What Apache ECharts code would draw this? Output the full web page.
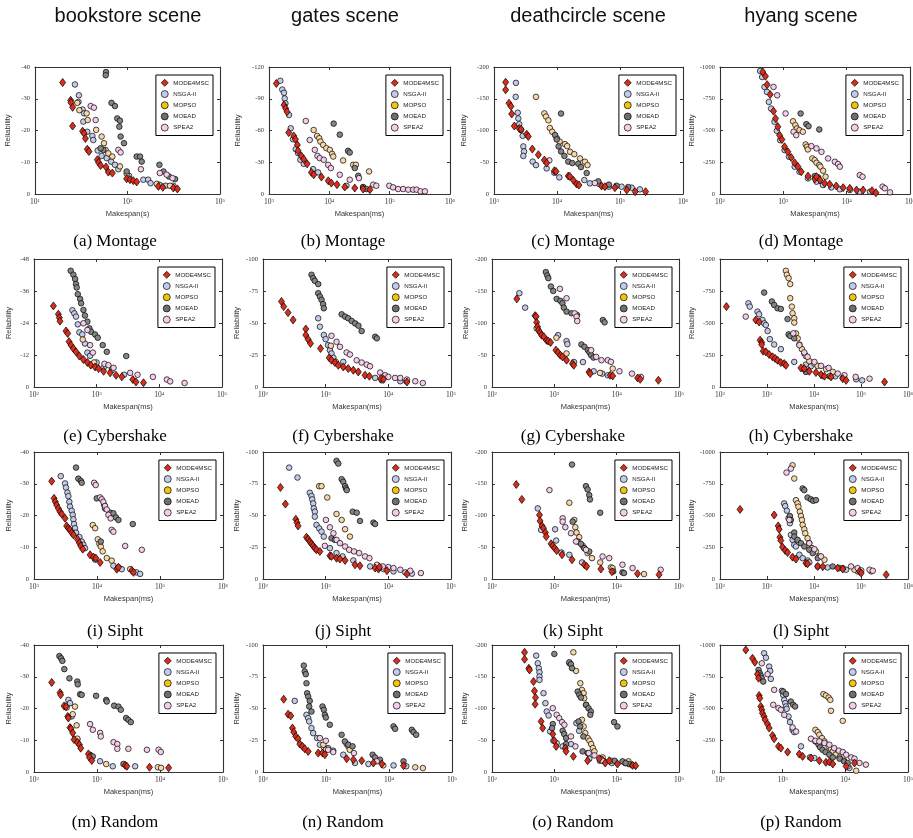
<!DOCTYPE html>
<html><head><meta charset="utf-8">
<script src="https://cdn.jsdelivr.net/npm/echarts@6/dist/echarts.min.js"></script>
<style>html,body{margin:0;padding:0;background:#fff}#c{width:913px;height:838px}</style>
</head><body><div id="c"></div>
<script>
// ---------------- DATA ----------------
const sceneTitles = ['bookstore scene', 'gates scene', 'deathcircle scene', 'hyang scene'];
const panelCaptions = ['(a) Montage','(b) Montage','(c) Montage','(d) Montage',
  '(e) Cybershake','(f) Cybershake','(g) Cybershake','(h) Cybershake',
  '(i) Sipht','(j) Sipht','(k) Sipht','(l) Sipht',
  '(m) Random','(n) Random','(o) Random','(p) Random'];
const seriesNames = ['MODE4MSC', 'NSGA-II', 'MOPSO', 'MOEAD', 'SPEA2'];
const xAxisNames = ['Makespan(s)','Makespan(ms)','Makespan(ms)','Makespan(ms)',
  'Makespan(ms)','Makespan(ms)','Makespan(ms)','Makespan(ms)',
  'Makespan(ms)','Makespan(ms)','Makespan(ms)','Makespan(ms)',
  'Makespan(ms)','Makespan(ms)','Makespan(ms)','Makespan(ms)'];
const yAxisName = 'Reliability';
// x tick labels as powers of ten (exponents)
const xTickExps = [[1,3,5],[3,4,5,6],[3,4,5,6],[2,3,4,5],
  [2,3,4,5],[2,3,4,5],[2,3,4,5],[2,3,4,5,6],
  [3,4,5,6],[2,3,4,5],[2,3,4,5],[2,3,4,5,6],
  [2,3,4,5],[2,3,4,5],[2,3,4,5],[2,3,4,5]];
// y axis: top value and tick step (bottom is 0)
const yTopValues = [-40,-120,-200,-1000,-48,-100,-200,-1000,-40,-100,-200,-1000,-40,-100,-200,-1000];
const yTickSteps = [10,30,50,250,12,25,50,250,10,25,50,250,10,25,50,250];

// (a) bookstore Montage
const a_MODE4MSC = [[39.6,-35.1],[59,-29.5],[60,-28.8],[65,-27.3],[65,-21.4],[107,-19.8],[115,-19.1],[123,-17.5],[135,-14.1],[147,-13.4],[223,-10.8],[237,-9.9],[262,-9.0],[343,-8.5],[385,-6.9],[470,-6.6],[960,-4.8],[1130,-4.5],[1330,-4.2],[1580,-3.8],[4650,-2.4],[5800,-2.1],[9800,-1.9],[12000,-1.6]];
const a_NSGA2 = [[73,-34.5],[89,-31.1],[87,-29],[107,-26.6],[115,-25.4],[111,-22.8],[135,-19.6],[174,-18.3],[182,-17.0],[227,-13.7],[276,-12.0],[355,-11.3],[441,-10.2],[535,-9.2],[634,-7.8],[1080,-5.7],[2200,-4.5],[2800,-4.5],[3150,-3.4],[4900,-2.9],[6700,-2.6],[9800,-2.6]];
const a_MOPSO = [[82,-28.7],[91,-26.4],[131,-25.4],[138,-23.3],[210,-20.2],[276,-18.1],[310,-16.0],[335,-13.9],[385,-12.8],[470,-11.8],[687,-8.7],[960,-6.4],[4300,-3.2],[8300,-2.6]];
const a_MOEAD = [[343,-38.4],[338,-37.4],[452,-28.7],[535,-27.7],[600,-23.8],[687,-23.1],[665,-21.2],[710,-18.1],[840,-16.0],[1580,-11.8],[1870,-11.8],[2030,-10.2],[300,-13.9],[262,-14.4],[960,-7.1],[4900,-9.2],[6000,-7.1],[7900,-5.5],[10700,-4.7]];
const a_SPEA2 = [[160,-27.7],[188,-27.2],[205,-23.3],[634,-13.9],[710,-13.1],[1950,-7.8],[5000,-6.6],[7000,-6.1],[9400,-5.0]];
// (b) gates Montage
const b_MODE4MSC = [[1324,-104.4],[1775,-84],[1890,-80.9],[1990,-77.7],[2120,-58],[2570,-54.9],[2740,-51.7],[2950,-46.4],[3030,-40.8],[3440,-36],[3770,-32.9],[4280,-28.5],[5050,-20.4],[5520,-18.2],[7400,-16],[9600,-12.5],[10800,-10.3],[13400,-8.8],[18000,-6.6],[26400,-5.6],[36300,-4.7],[47000,-4.1]];
const b_NSGA2 = [[1540,-107],[1660,-98.7],[1770,-95.6],[1820,-90.3],[1870,-85.6],[2150,-74.6],[2290,-62.1],[2500,-51.7],[2770,-42.3],[3030,-38.6],[3310,-32.3],[3770,-28.5],[5370,-23.5],[6500,-20.4],[19200,-7.8],[36300,-6.3]];
const b_MOPSO = [[5500,-60.5],[6270,-54.9],[6800,-52.7],[7120,-49.5],[7900,-46.4],[8930,-43.3],[10200,-41.7],[11100,-37.9],[11600,-35.4],[16900,-31.7],[24800,-27.6],[27500,-27.6],[45500,-21.3]];
const b_MOEAD = [[11800,-66.5],[14900,-56.1],[20400,-40.8],[21800,-39.2],[26400,-24.5],[30100,-17.2],[36300,-6.6],[41000,-4.7]];
const b_SPEA2 = [[4070,-69],[4730,-51],[5740,-41.7],[6370,-36],[6930,-33.9],[8080,-32.3],[9550,-27.6],[10600,-24.5],[14900,-18.2],[21800,-13.5],[31000,-15],[53300,-8.8],[60000,-7.8],[98500,-7.8],[114000,-6.3],[138000,-4.7],[167000,-4.7],[203000,-4.1],[245000,-4.1],[280000,-4.1],[325000,-2.5],[384000,-2.5]];
// (c) deathcircle Montage
const c_MODE4MSC = [[1530,-176],[1530,-164],[1730,-143],[1860,-138],[1910,-126],[2100,-107],[2520,-103],[2690,-102],[3300,-94],[3500,-90.6],[4060,-70.7],[5060,-61.8],[6300,-53.4],[6850,-48.7],[9080,-36.6],[9650,-35.6],[15100,-28.3],[16000,-27.7],[18200,-21.5],[20500,-15.7],[22300,-14.1],[51000,-12.6],[57600,-11.5],[83000,-10],[128000,-6.3],[174000,-3.7],[255000,-3.7]];
const c_NSGA2 = [[2230,-175],[2210,-153],[2380,-128],[2430,-119],[2520,-110],[2690,-101],[2850,-91.6],[2920,-74.9],[3000,-67],[2920,-60],[4110,-51],[4640,-45.5],[6850,-40.3],[9080,-33.5],[10900,-26.2],[27200,-22],[33300,-16.8],[46800,-15.7],[66800,-11.5],[106000,-11.5],[153000,-10],[207000,-7.3]];
const c_MOPSO = [[4640,-153],[6300,-127],[6700,-122],[7300,-116],[7700,-104],[8400,-98],[9900,-88],[11000,-82.7],[13400,-78.5],[14500,-75.4],[16100,-66.5],[18800,-62.8],[23200,-56],[27800,-50.8],[30500,-45.5]];
const c_MOEAD = [[11600,-126.7],[9300,-93],[9900,-86],[10600,-74.9],[11600,-67],[13100,-60],[15100,-51],[17500,-48.7],[21800,-47.6],[24000,-42.4],[29600,-33],[45300,-19.9],[66800,-14.7],[88300,-13.1],[135000,-11]];
const c_SPEA2 = [[7550,-52.9],[39900,-17.3]];
// (d) hyang Montage
const d_MODE4MSC = [[474,-961],[522,-927],[555,-861],[620,-783],[700,-652],[753,-594],[820,-529],[871,-463],[950,-429],[1046,-372],[1180,-332],[1330,-288],[1510,-246],[1700,-215],[1920,-175],[2450,-141],[3130,-118],[3340,-136],[3770,-110],[4500,-84],[5400,-76],[6850,-63],[8800,-50],[11200,-44.5],[14300,-31],[18200,-31],[25100,-26],[29000,-10]];
const d_NSGA2 = [[430,-968],[463,-921],[504,-843],[550,-804],[590,-725],[640,-673],[725,-568],[790,-497],[890,-424],[1046,-346],[1230,-293],[1510,-215],[1800,-175],[2450,-123],[3340,-97],[4220,-71],[5700,-52],[7800,-37],[11200,-31],[16100,-18],[23300,-18]];
const d_MOPSO = [[1420,-573],[1550,-542],[1640,-516],[1800,-503],[2030,-490],[2250,-390],[2360,-372],[2440,-351],[2870,-280],[3130,-267],[3340,-246],[3690,-228],[3840,-215],[4250,-183],[4640,-136]];
const d_MOEAD = [[1875,-634],[2310,-550],[2500,-534],[3690,-508],[3130,-141],[3550,-131]];
const d_SPEA2 = [[700,-843],[800,-777],[1085,-634],[1450,-490],[1600,-463],[2770,-377],[3340,-359],[4000,-332],[5100,-280],[6500,-254],[7300,-236],[7800,-215],[16100,-149],[17800,-136],[36900,-58],[40100,-45],[48300,-13]];
// (e) bookstore Cybershake
const e_MODE4MSC = [[204,-30.4],[245,-27.3],[254,-26],[260,-24.7],[324,-21],[345,-20.1],[363,-17],[390,-15.7],[425,-14.4],[468,-13.2],[530,-11.6],[615,-10.3],[711,-9.2],[805,-8.2],[943,-7.5],[1070,-6.9],[1290,-5.9],[1640,-5.3],[2040,-4.4],[2520,-3.8],[3770,-2.8],[4240,-1.9],[5590,-1.6]];
const e_NSGA2 = [[410,-28.8],[440,-27.6],[468,-26.4],[500,-23.5],[530,-20.5],[590,-19.7],[650,-16.3],[711,-12.9],[785,-11.7],[1000,-9.2],[1290,-7.2],[1740,-6.3],[2740,-4.6]];
const e_MOPSO = [[600,-17.8],[910,-9.2]];
const e_MOEAD = [[385,-43.6],[425,-42.1],[453,-40.5],[468,-38.6],[480,-37.3],[500,-34.8],[545,-33],[565,-31.4],[615,-28.9],[650,-26.8],[711,-24.5],[765,-22],[815,-20.7],[943,-19.7],[1040,-18.5],[1250,-15.7],[1450,-13.2],[2960,-11.6]];
const e_SPEA2 = [[615,-23.9],[711,-21.4],[785,-15.7],[870,-12.9],[1330,-8.7],[1540,-8.2],[1860,-7.2],[3420,-5.3],[4490,-4.6],[7900,-3.8],[13200,-2.8],[14900,-2.1],[25300,-1.5]];
// (f) gates Cybershake
const f_MODE4MSC = [[197,-66.8],[214,-62.8],[251,-58.1],[302,-52.4],[482,-45.3],[482,-40.6],[525,-37.2],[573,-34],[828,-30.1],[1140,-22.8],[1240,-20.9],[1410,-19.1],[1590,-17],[1910,-15.7],[2290,-14.4],[2760,-13.1],[3320,-11.8],[4250,-9.2],[4990,-8.4],[7600,-6.5],[8400,-6],[19800,-3.9]];
const f_NSGA2 = [[760,-53.7],[810,-47.1],[935,-40.6],[1000,-37.4],[1090,-32.7],[1170,-28.8],[1240,-26.2],[1330,-22.8],[1910,-19.6],[6170,-7.1],[7870,-5.2],[15500,-4.5]];
const f_MOPSO = [[1210,-32.2],[1450,-19.6],[19300,-4.5]];
const f_MOEAD = [[595,-87.7],[630,-85.1],[670,-83],[760,-80.4],[760,-73.3],[810,-70.7],[860,-68.1],[910,-64.7],[935,-61.5],[1800,-56.8],[2040,-55],[2290,-53.7],[2600,-51.6],[2950,-49.7],[3330,-47.9],[3750,-43.7],[6170,-39.3],[6560,-38]];
const f_SPEA2 = [[1240,-40],[1490,-35.3],[1690,-31.4],[2160,-27],[2440,-25.4],[3120,-20.9],[3750,-19.1],[4520,-17.5],[5100,-16.2],[7400,-11.3],[8890,-9.2],[10000,-7.9],[12800,-7.1],[15500,-7.1],[19800,-5.8],[26900,-4.5],[35500,-3.1]];
// (g) deathcircle Cybershake
const g_MODE4MSC = [[250,-137.7],[490,-111.5],[510,-110],[520,-101],[540,-94],[555,-89],[590,-85],[625,-81],[680,-78.5],[750,-73],[800,-71.7],[870,-69.6],[1060,-57.6],[1150,-53.9],[1250,-49.7],[1350,-47.1],[1570,-41.9],[1950,-36.6],[2050,-34],[3600,-23.6],[3760,-20.9],[7870,-18.3],[8640,-17.3],[21700,-14.1],[23900,-12],[46700,-10.5]];
const g_NSGA2 = [[275,-146.6],[340,-124],[1150,-81],[1570,-71.7],[1620,-67],[2070,-39],[2880,-39],[4270,-24.6],[5860,-20.9],[7200,-18.3]];
const g_MOPSO = [[520,-91.6],[1080,-77],[1570,-52.4],[5400,-22],[8640,-28.8],[23500,-14.1]];
const g_MOEAD = [[730,-179.6],[770,-174.3],[800,-170],[880,-157],[960,-150],[1090,-137.7],[1250,-134.6],[1350,-130.9],[1420,-124],[1570,-117.8],[1880,-115.2],[2310,-112.6],[2720,-66.5],[3040,-62.8],[3450,-57.6],[3670,-53.9],[3900,-49.7],[4250,-46],[6000,-104.7],[6400,-101]];
const g_SPEA2 = [[1230,-153.4],[1570,-138.7],[2120,-115],[2270,-110],[2330,-103],[3900,-57.6],[4700,-47.1],[5700,-41.9],[7200,-41.9],[8100,-39.3],[11100,-24.6],[17600,-20.9],[24500,-15.7]];
// (h) hyang Cybershake
const h_MODE4MSC = [[137,-628],[578,-524],[680,-508],[715,-366],[770,-348],[770,-332],[830,-280],[945,-275],[1110,-254],[1310,-236],[1490,-223],[1680,-209],[1970,-191],[2320,-183],[2520,-170],[5270,-149],[6220,-144],[7940,-123],[11000,-113],[14100,-97],[16700,-84],[23100,-79],[40900,-65],[48200,-52],[317000,-39]];
const h_NSGA2 = [[403,-654],[430,-628],[627,-589],[680,-568],[800,-524],[870,-497],[945,-484],[1030,-437],[1150,-374],[1420,-332],[1970,-296],[3800,-196],[6700,-175],[8600,-162],[15400,-86],[28500,-84],[40900,-71],[78900,-60],[106000,-52]];
const h_MOPSO = [[2520,-908],[2650,-877],[2880,-851],[3120,-804],[3120,-694],[3380,-628],[3500,-576],[3800,-537],[3800,-503],[4130,-419],[4500,-380],[4880,-332],[5530,-296],[6220,-262],[6740,-241],[7940,-202],[10200,-183],[11900,-165],[18100,-139],[25100,-118]];
const h_MOEAD = [[870,-738],[1270,-668],[1420,-641],[1680,-615],[1970,-610],[2740,-531],[2880,-411],[3120,-398],[3800,-380],[6220,-139],[6740,-118],[21300,-84]];
const h_SPEA2 = [[353,-550],[3630,-419],[4880,-327],[6220,-270],[7300,-236],[10200,-196],[14100,-165],[20500,-149],[32000,-105],[44400,-92],[77000,-79],[152000,-65]];
// (i) bookstore Sipht
const i_MODE4MSC = [[1910,-30.8],[2080,-25.4],[2180,-24.3],[2290,-23.3],[2440,-22.2],[2590,-21.2],[2750,-20.5],[3110,-19.1],[3300,-16.7],[3510,-16],[3730,-15.5],[3970,-14.6],[4220,-13.9],[4890,-12.5],[5260,-11.3],[5530,-10.4],[5940,-9.4],[7770,-7.6],[8760,-6.9],[9550,-6.6],[11200,-5.2],[20600,-3.1],[21900,-3.7],[35700,-2.7],[37900,-2.1]];
const i_NSGA2 = [[2660,-32.4],[3110,-30.1],[3220,-28.8],[3390,-27.2],[3510,-26.1],[3640,-24.3],[3730,-22.8],[3970,-21.5],[4120,-20.2],[4220,-18.8],[4320,-17.3],[4480,-16],[4650,-14.6],[5260,-13.2],[5730,-11.8],[6080,-10.8],[6460,-9.7],[9340,-6.1],[18200,-4.2],[21900,-3.7],[24700,-3.1],[41900,-2.1],[48400,-1.6]];
const i_MOPSO = [[8570,-17],[9340,-16],[10300,-12.5],[10900,-11.1],[11500,-10.2],[12300,-8.7],[14300,-6.6],[17100,-5.8],[33600,-3.1]];
const i_MOEAD = [[4650,-35.1],[5060,-31.6],[5530,-30.9],[5730,-30.3],[9900,-25.4],[13000,-23.3],[13400,-22.2],[16100,-20.9],[18200,-20.7],[20000,-19.4],[21900,-18.6],[37000,-17.3],[11500,-11.8]];
const i_SPEA2 = [[9000,-30.3],[9550,-29.6],[11200,-25.7],[11900,-25.1],[12600,-24.3],[13400,-23],[14300,-21.9],[15200,-20.2],[16500,-19.1],[17100,-15.5],[18200,-14.9],[28000,-10.4],[51400,-9.2]];
// (j) gates Sipht
const j_MODE4MSC = [[190,-72.1],[228,-59],[334,-47],[350,-44.4],[363,-41.8],[494,-32.9],[525,-31.3],[558,-29.5],[594,-27.7],[632,-26.1],[672,-24.3],[714,-23],[809,-21.7],[1170,-18.3],[1240,-17.8],[1490,-16.4],[1690,-15.7],[2040,-14.6],[2940,-11.2],[3530,-10.4],[6150,-8.6],[6960,-7.8],[7240,-9.4],[9490,-6.5],[19800,-3.9]];
const j_NSGA2 = [[261,-87.7],[355,-79.9],[558,-67.9],[594,-65.3],[610,-62.7],[632,-59.5],[647,-55.6],[672,-53],[672,-49.1],[714,-42.6],[788,-39.9],[859,-37.3],[934,-33.4],[1170,-24.3],[1490,-20.4],[1860,-17.8],[2760,-14.6],[5120,-9.9],[8400,-7.8],[12100,-6],[18600,-5.2],[23800,-4.2]];
const j_MOPSO = [[788,-73.1],[859,-73.1],[1060,-64.2],[1490,-51.2],[1800,-46.5],[2040,-39.2],[2440,-33.4]];
const j_MOEAD = [[1490,-93],[1590,-90.9],[1800,-78.6],[1910,-76.5],[2040,-73.1],[2110,-71.3],[2170,-70],[2700,-53],[3130,-52.2],[3530,-45.7],[5780,-44.4],[6150,-43.3],[1240,-32.1],[1400,-30.8]];
const j_SPEA2 = [[1010,-46.5],[1170,-40.7],[970,-26.1],[1330,-36],[1490,-30.8],[1690,-28.2],[2040,-25.6],[2370,-23],[2830,-21.7],[3420,-20.4],[4250,-17.8],[4990,-16.4],[6570,-11.2],[8160,-9.9],[10000,-9.4],[12100,-8.6],[15500,-7.3],[22400,-6.5],[33100,-4.7]];
// (k) deathcircle Sipht
const k_MODE4MSC = [[245,-148.8],[301,-125.3],[578,-100.8],[590,-91.4],[635,-83.6],[670,-79.9],[720,-73.1],[740,-66.8],[887,-55.4],[945,-52.2],[1010,-48.6],[1090,-44.9],[1330,-38.1],[1920,-30.3],[3030,-22.5],[3300,-19.8],[5580,-15.7],[8380,-11.5],[21600,-8.4],[47900,-6.8]];
const k_NSGA2 = [[543,-111.2],[615,-77.3],[1030,-78.3],[1070,-60.6],[1300,-41.8],[1740,-38.1],[2780,-26.1]];
const k_MOPSO = [[1740,-120.1],[2090,-93],[2170,-81.5],[2270,-73.1],[2510,-65.8],[2850,-52.2],[3030,-48.6],[3420,-40.7],[4020,-32.9],[5440,-26.1],[8070,-18.3],[8590,-17.2],[27500,-7.8]];
const k_MOEAD = [[1920,-180.2],[3220,-146.2],[3420,-141],[3630,-132.1],[3730,-125.3],[5440,-104.4],[1970,-90.3],[2370,-59],[2670,-55.4],[3030,-48.6],[3630,-43.3],[8800,-12],[12400,-10.4],[13100,-9.4]];
const k_SPEA2 = [[835,-140],[1360,-95.6],[1360,-90.3],[1500,-81.5],[1850,-72.1],[2230,-59],[3220,-46],[5940,-35.5],[7600,-32.9],[12400,-22.5],[18000,-17.2],[50800,-14.6]];
// (l) hyang Sipht
const l_MODE4MSC = [[267,-548],[1420,-504],[1730,-418],[1810,-392],[1880,-329],[1970,-303],[2140,-251],[2440,-225],[2740,-209],[3500,-172],[4130,-157],[6740,-125],[7300,-120],[12000,-99],[15400,-97],[32000,-86],[40900,-78],[92900,-60],[101000,-47],[344000,-34]];
const l_NSGA2 = [[2310,-595],[2440,-574],[2650,-538],[2870,-478],[3070,-439],[3220,-347],[3500,-308],[3800,-269],[4130,-256],[4880,-191],[5740,-164],[7300,-146],[7940,-131],[12000,-99],[19500,-91],[34700,-86],[48200,-73],[85000,-60]];
const l_MOPSO = [[3500,-896],[3800,-791],[4130,-621],[4480,-595],[4660,-569],[5000,-530],[5270,-496],[5540,-465],[5740,-426],[6220,-392],[6530,-360],[7300,-321],[7940,-282],[9060,-243],[11000,-217],[13000,-178],[16700,-151],[72600,-73],[165000,-60]];
const l_MOEAD = [[3070,-496],[3220,-465],[3800,-366],[5740,-713],[6220,-700],[7300,-642],[8590,-627],[9620,-616],[11000,-621],[3800,-334],[4480,-308],[5270,-282],[6220,-256],[7940,-230],[9360,-204],[12000,-164],[25000,-99]];
const l_SPEA2 = [[3220,-869],[2600,-838],[2980,-465],[7940,-282],[10200,-235],[14100,-178],[40900,-86],[61500,-99],[85000,-86],[101000,-68],[152000,-73],[178000,-65]];
// (m) bookstore Random
const m_MODE4MSC = [[191,-28.2],[259,-25],[265,-24.3],[300,-20.8],[322,-20.6],[343,-17.5],[351,-17],[373,-14],[387,-13.6],[412,-12.3],[432,-10.2],[487,-9.4],[526,-8.6],[552,-7.5],[731,-5.7],[758,-4.6],[826,-3.6],[2800,-2.1],[2980,-1.8],[6820,-1.5],[13700,-1.3]];
const m_NSGA2 = [[351,-22.7],[373,-21.7],[396,-17.5],[487,-10.2],[1120,-3.4],[1780,-1.8],[4030,-1.8]];
const m_MOPSO = [[330,-20.3],[412,-18.2],[447,-20.6],[475,-14.7],[487,-10.5],[1400,-2.5],[9250,-1.5],[10400,-1.3]];
const m_MOEAD = [[253,-36.5],[269,-35.8],[282,-35],[303,-32.4],[365,-29.5],[487,-28.5],[495,-27.6],[540,-24.5],[572,-24.3],[967,-24],[1400,-22.7],[1430,-22.2],[1870,-20.9],[2190,-20.6],[2390,-19.6],[2900,-17],[3150,-16.4],[3440,-15.7],[776,-5.4],[858,-4.9],[2630,-2.5]];
const m_SPEA2 = [[776,-15.1],[858,-13.3],[1120,-12.3],[1150,-11.2],[1830,-9.4],[2100,-8.8],[2100,-7.3],[3150,-7.3],[6200,-7],[9500,-7],[10300,-6.3]];
// (n) gates Random
const n_MODE4MSC = [[213,-57.3],[250,-45.5],[276,-44.2],[293,-34.6],[308,-31.4],[332,-28],[360,-26.2],[384,-22],[423,-20.2],[460,-18.3],[521,-16.2],[752,-14.9],[880,-14.9],[960,-13.6],[2130,-10.5],[2720,-9.7],[3690,-8.9],[5660,-7.1],[7690,-6.3],[17000,-5]];
const n_NSGA2 = [[319,-56],[490,-45],[521,-42.4],[541,-39.8],[588,-34.6],[626,-30.6],[725,-26.7],[800,-21.5],[924,-19.4],[1080,-18.8],[1300,-16.8],[1880,-13.6],[2880,-7.1],[4710,-6.3],[11800,-5.2],[18800,-4.5]];
const n_MOPSO = [[906,-21.5],[995,-17.5],[2130,-22],[2260,-20.2],[2380,-17.5],[8100,-5.2],[26100,-3.7],[34500,-3.1]];
const n_MOEAD = [[444,-83.8],[460,-79.1],[478,-77],[490,-69.9],[502,-62],[521,-59.4],[552,-56],[541,-51.6],[588,-47.6],[880,-51.6],[924,-49],[960,-45],[995,-42.9],[1150,-37.2],[1770,-29.3],[1990,-24.1],[2260,-21.5],[2640,-20.2],[5500,-13.6],[6000,-11.5],[7200,-9.7],[11800,-35.9],[12500,-34],[23000,-33.2],[24500,-31.4],[27000,-29.3],[17000,-8.4]];
const n_SPEA2 = [[800,-26.7],[995,-24.6],[1080,-17.5],[1300,-15.7],[2780,-14.9],[6390,-8.4]];
// (o) deathcircle Random
const o_MODE4MSC = [[333,-188.5],[333,-177.5],[390,-163.4],[400,-160.7],[463,-142.4],[480,-127.7],[499,-117.3],[492,-106.8],[614,-79.6],[650,-69.1],[944,-59.7],[1000,-49.2],[1070,-40.3],[1500,-37.7],[1540,-32.5],[2020,-24.6],[3420,-17.8],[5250,-20.9],[6550,-14.1],[7600,-17.8],[10300,-12.6],[18000,-10.5],[20200,-9.9]];
const o_NSGA2 = [[512,-183.2],[543,-171.2],[563,-163.4],[578,-157.1],[578,-150.3],[578,-145],[670,-124.1],[720,-108.4],[755,-95.3],[810,-89],[855,-63.9],[967,-49.2],[1090,-45.5],[1360,-40.3],[1850,-44],[2260,-77],[2500,-64.9],[3640,-20.9],[5380,-17.8],[8380,-14.1],[15800,-12.6]];
const o_MOPSO = [[2020,-188.5],[2230,-159.2],[1750,-171.2],[2610,-139.8],[2770,-129.3],[2950,-124.1],[3010,-116.2],[3230,-105.8],[2770,-82.2],[2950,-71.7],[3140,-61.3],[3430,-53.4],[3660,-49.2],[3900,-44],[4150,-37.7],[4400,-32.5],[5940,-23],[8140,-17.8],[13700,-14.1],[15500,-16.8]];
const o_MOEAD = [[1000,-185.9],[1740,-172.8],[1850,-169.6],[1920,-163.4],[2370,-126.7],[2520,-121.5],[2670,-117.3],[3230,-105.8],[3530,-100.5],[3860,-95.3],[3770,-90.1],[2450,-79.6],[2600,-71.7],[2920,-56],[944,-75.4],[920,-69.1],[1360,-64.9],[1440,-59.7],[1540,-53.4],[1540,-44],[2840,-32.5],[3420,-29.8],[5580,-20.9],[6300,-16.8],[9300,-17.8],[12400,-16.8],[15800,-12.6],[18000,-10.5],[13900,-14.1],[9100,-78.5],[10300,-71.7]];
const o_SPEA2 = [[944,-100.5],[1090,-90.1],[1200,-84.8],[1330,-78.5],[1450,-74.3],[1850,-56],[2180,-40.3],[3560,-29.8],[4400,-26.2],[5940,-17.8]];
// (p) hyang Random
const p_MODE4MSC = [[258,-961],[330,-895],[360,-864],[396,-770],[412,-738],[421,-602],[432,-581],[448,-516],[465,-490],[476,-463],[506,-437],[525,-411],[574,-377],[609,-346],[688,-288],[731,-262],[858,-202],[936,-188],[1200,-157],[1840,-141],[2080,-123],[2830,-110],[3850,-89],[4900,-76],[5560,-79],[6300,-63],[10300,-45],[14000,-71]];
const p_NSGA2 = [[506,-935],[541,-900],[609,-830],[632,-796],[647,-733],[972,-639],[1020,-607],[1060,-568],[1100,-542],[1130,-516],[1160,-497],[1240,-437],[1310,-393],[1440,-332],[1530,-314],[1960,-202],[2730,-115],[3200,-110],[11600,-31]];
const p_MOPSO = [[4470,-613],[4900,-602],[5420,-586],[5760,-568],[5900,-482],[9100,-403],[3330,-332],[3630,-314],[3850,-293],[4240,-267],[4640,-241],[5420,-202],[5900,-183],[6300,-162],[6970,-136],[8100,-115],[9500,-89],[10900,-45],[14900,-10]];
const p_MOEAD = [[412,-804],[432,-777],[448,-759],[465,-738],[490,-712],[1020,-634],[1130,-613],[1350,-555],[1470,-529],[1580,-516],[3330,-241],[3740,-215],[3960,-194],[4330,-175],[4820,-157],[5560,-136],[6300,-115],[8100,-105],[9580,-84],[10900,-71]];
const p_SPEA2 = [[465,-856],[574,-770],[732,-647],[708,-529],[858,-503],[936,-490],[1060,-450],[1440,-351],[1640,-319],[2830,-262],[3330,-246],[3850,-241],[4640,-228],[5560,-215],[6640,-188],[7880,-168],[9100,-157],[10300,-136],[12400,-115],[14000,-105],[16800,-71],[21300,-58]];

const panelSeries = [
  [a_MODE4MSC,a_NSGA2,a_MOPSO,a_MOEAD,a_SPEA2],[b_MODE4MSC,b_NSGA2,b_MOPSO,b_MOEAD,b_SPEA2],
  [c_MODE4MSC,c_NSGA2,c_MOPSO,c_MOEAD,c_SPEA2],[d_MODE4MSC,d_NSGA2,d_MOPSO,d_MOEAD,d_SPEA2],
  [e_MODE4MSC,e_NSGA2,e_MOPSO,e_MOEAD,e_SPEA2],[f_MODE4MSC,f_NSGA2,f_MOPSO,f_MOEAD,f_SPEA2],
  [g_MODE4MSC,g_NSGA2,g_MOPSO,g_MOEAD,g_SPEA2],[h_MODE4MSC,h_NSGA2,h_MOPSO,h_MOEAD,h_SPEA2],
  [i_MODE4MSC,i_NSGA2,i_MOPSO,i_MOEAD,i_SPEA2],[j_MODE4MSC,j_NSGA2,j_MOPSO,j_MOEAD,j_SPEA2],
  [k_MODE4MSC,k_NSGA2,k_MOPSO,k_MOEAD,k_SPEA2],[l_MODE4MSC,l_NSGA2,l_MOPSO,l_MOEAD,l_SPEA2],
  [m_MODE4MSC,m_NSGA2,m_MOPSO,m_MOEAD,m_SPEA2],[n_MODE4MSC,n_NSGA2,n_MOPSO,n_MOEAD,n_SPEA2],
  [o_MODE4MSC,o_NSGA2,o_MOPSO,o_MOEAD,o_SPEA2],[p_MODE4MSC,p_NSGA2,p_MOPSO,p_MOEAD,p_SPEA2]];

// ---------------- LAYOUT & STYLE ----------------
const W = 913;
const rowTop = [67, 259, 452, 645];
const rowBottom = [194, 387, 579, 772];
const colLeft = [[35,269,494,720],[34,263,492,720],[34,263,492,720],[34,263,492,720]];
const colRight = [[220,450,683,910],[222,451,679,908],[223,451,679,908],[223,452,679,908]];
const yNameX = [[8,238,464,692],[9,237,466,693],[9,237,465,693],[9,237,465,693]];
const titleCenterX = [128, 345, 588, 801];
const captionCenterX = [115, 343, 573, 801];
const captionCenterY = [242, 437, 632, 823];

const seriesStyles = [
  {symbol:'diamond', size:[6,8], color:'#d92e1c', z:4},
  {symbol:'circle', size:5.6, color:'#c3cbea', z:3},
  {symbol:'circle', size:5.6, color:'#f8d6a6', z:3},
  {symbol:'circle', size:5.6, color:'#858585', z:3},
  {symbol:'circle', size:5.6, color:'#f5cdea', z:3}
];
const legendIconColors = ['#d92e1c', '#c3cbea', '#f2c40f', '#6e6e6e', '#f5cdea'];
const AX = '#333';

const grids = [], xAxes = [], yAxes = [], series = [], legends = [], graphics = [];

function xFmt(v) {
  const e = Math.round(Math.log10(v));
  return '{b|10}{s|' + e + '}';
}
function yFmt(v) {
  return String(Math.round(v));
}

for (let p = 0; p < 16; p++) {
  const r = Math.floor(p / 4), c = p % 4;
  const left = colLeft[r][c], right = colRight[r][c];
  const top = rowTop[r], bottom = rowBottom[r];
  grids.push({left: left, top: top, width: right - left, height: bottom - top, show: false, outerBoundsMode: 'none'});
  const exps = xTickExps[p];
  const tickVals = exps.map(e => Math.pow(10, e));
  const xmin = tickVals[0], xmax = tickVals[tickVals.length - 1];
  const xCommon = {
    type: 'log', logBase: 10, gridIndex: p, min: xmin, max: xmax,
    axisLine: {show: true, onZero: false, lineStyle: {color: AX, width: 1.1}},
    axisTick: {show: true, inside: true, length: 3, customValues: tickVals, lineStyle: {color: AX, width: 1}},
    minorTick: {show: false}, splitLine: {show: false}
  };
  xAxes.push(Object.assign({}, xCommon, {
    position: 'bottom',
    name: xAxisNames[p], nameLocation: 'middle', nameGap: 16,
    nameTextStyle: {fontFamily: 'Liberation Sans', fontSize: 7.5, color: AX},
    axisLabel: {show: true, customValues: tickVals, formatter: xFmt, margin: 4,
      rich: {
        b: {fontFamily: 'Liberation Serif', fontSize: 7.5, color: AX},
        s: {fontFamily: 'Liberation Serif', fontSize: 5, color: AX, verticalAlign: 'top'}
      }}
  }));
  xAxes.push(Object.assign({}, xCommon, {position: 'top', axisLabel: {show: false}}));

  const yCommon = {
    type: 'value', gridIndex: p, inverse: true, min: yTopValues[p], max: 0, interval: yTickSteps[p],
    axisLine: {show: true, onZero: false, lineStyle: {color: AX, width: 1.1}},
    axisTick: {show: true, inside: true, length: 3, lineStyle: {color: AX, width: 1}},
    splitLine: {show: false}
  };
  yAxes.push(Object.assign({}, yCommon, {
    position: 'left',
    name: yAxisName, nameLocation: 'middle', nameRotate: 90,
    nameGap: left - yNameX[r][c] - 4,
    nameTextStyle: {fontFamily: 'Liberation Sans', fontSize: 7.5, color: AX},
    axisLabel: {show: true, formatter: yFmt, fontFamily: 'Liberation Serif', fontSize: 6.5, color: AX, margin: 5}
  }));
  yAxes.push(Object.assign({}, yCommon, {position: 'right', axisLabel: {show: false}}));

  for (let s = 0; s < 5; s++) {
    const st = seriesStyles[s];
    series.push({
      type: 'scatter', name: seriesNames[s], xAxisIndex: 2 * p, yAxisIndex: 2 * p,
      data: panelSeries[p][s], symbol: st.symbol, symbolSize: st.size, z: st.z,
      itemStyle: {color: st.color, borderColor: '#000', borderWidth: 0.7, opacity: 1},
      emphasis: {disabled: true}, silent: true
    });
  }

  legends.push({
    orient: 'vertical', right: W - right + 7, top: top + 8,
    itemWidth: 7, itemHeight: 7, itemGap: 3.5,
    padding: [4, 4, 4, 5], borderColor: '#000', borderWidth: 1, backgroundColor: '#fff',
    selectedMode: false,
    textStyle: {fontFamily: 'Liberation Sans', fontSize: 6.2, color: '#222'},
    data: seriesNames.map((n, k) => ({name: n, itemStyle: {color: legendIconColors[k], borderColor: '#000', borderWidth: 0.7}}))
  });

  graphics.push({
    type: 'text', x: captionCenterX[c], y: captionCenterY[r],
    style: {text: panelCaptions[p], align: 'center', verticalAlign: 'middle',
      font: '17px "Liberation Serif"', fill: '#000'}
  });
}
for (let c = 0; c < 4; c++) {
  graphics.push({
    type: 'text', x: titleCenterX[c], y: 16,
    style: {text: sceneTitles[c], align: 'center', verticalAlign: 'middle',
      font: '20px "Liberation Sans"', fill: '#111'}
  });
}

const chart = echarts.init(document.getElementById('c'), null, {renderer: 'canvas', width: 913, height: 838});
chart.setOption({
  animation: false,
  backgroundColor: '#fff',
  grid: grids, xAxis: xAxes, yAxis: yAxes, series: series, legend: legends,
  graphic: graphics
});
</script>
</body></html>
